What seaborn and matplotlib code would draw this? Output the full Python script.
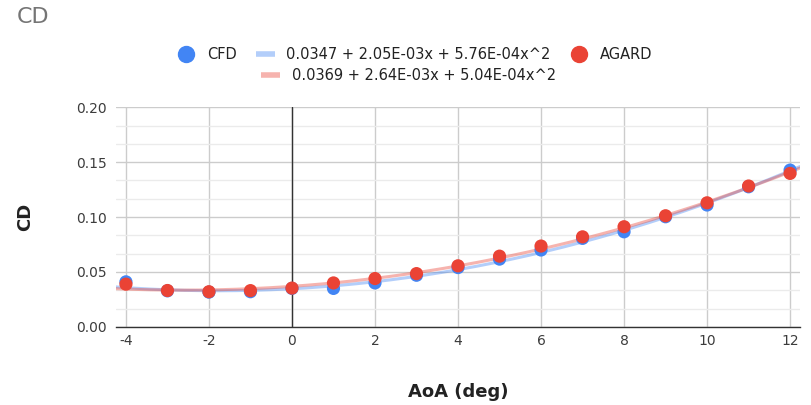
import numpy as np
import pandas as pd
import matplotlib
matplotlib.use("Agg")
import matplotlib.pyplot as plt
from matplotlib.lines import Line2D
import seaborn as sns

# Angle of attack (deg) and drag coefficients
aoa = [-4, -3, -2, -1, 0, 1, 2, 3, 4, 5, 6, 7, 8, 9, 10, 11, 12]
cd_cfd = [0.0410, 0.0328, 0.0316, 0.0320, 0.0350, 0.0350, 0.0400, 0.0470, 0.0540,
          0.0617, 0.0700, 0.0806, 0.0866, 0.1003, 0.1110, 0.1276, 0.1428]
cd_agard = [0.0389, 0.0331, 0.0320, 0.0330, 0.0353, 0.0400, 0.0440, 0.0485, 0.0556,
            0.0644, 0.0736, 0.0820, 0.0912, 0.1012, 0.1130, 0.1283, 0.1398]

# Quadratic trendline coefficients (c0, c1, c2)
fit_cfd = [0.0347, 2.05e-3, 5.76e-4]
fit_agard = [0.0369, 2.64e-3, 5.04e-4]
fit_cfd_label = "0.0347 + 2.05E-03x + 5.76E-04x^2"
fit_agard_label = "0.0369 + 2.64E-03x + 5.04E-04x^2"

x_ticks = [-4, -2, 0, 2, 4, 6, 8, 10, 12]
y_ticks = [0.00, 0.05, 0.10, 0.15, 0.20]

BLUE = "#4285F4"
RED = "#EA4335"

sns.set_theme(style="white")
plt.rcParams["font.family"] = ["DejaVu Sans"]

fig = plt.figure(figsize=(8.11, 4.05), dpi=100)
ax = fig.add_axes([0.143, 0.193, 0.8435, 0.542])

xmin, xmax = -4.24, 12.24
xs = np.linspace(xmin, xmax, 200)
trend = pd.DataFrame({
    "x": np.concatenate([xs, xs]),
    "y": np.concatenate([fit_cfd[0] + fit_cfd[1] * xs + fit_cfd[2] * xs ** 2,
                         fit_agard[0] + fit_agard[1] * xs + fit_agard[2] * xs ** 2]),
    "series": ["cfd"] * len(xs) + ["agard"] * len(xs),
})
pts = pd.DataFrame({"aoa": aoa, "CFD": cd_cfd, "AGARD": cd_agard})

# gridlines
ax.set_yticks(y_ticks)
ax.set_yticks(np.arange(0, 0.2001, 0.05 / 3), minor=True)
ax.set_xticks(x_ticks)
ax.grid(axis="y", which="major", color="#cccccc", lw=1.0, zorder=0)
ax.grid(axis="y", which="minor", color="#ebebeb", lw=1.0, zorder=0)
ax.grid(axis="x", which="major", color="#cccccc", lw=1.0, zorder=0)
ax.axvline(0, color="#333333", lw=1.0, zorder=1)

sns.lineplot(data=trend[trend.series == "cfd"], x="x", y="y", ax=ax, color=BLUE,
             alpha=0.4, lw=2.2, legend=False, zorder=2)
sns.lineplot(data=trend[trend.series == "agard"], x="x", y="y", ax=ax, color=RED,
             alpha=0.4, lw=2.2, legend=False, zorder=2)
sns.scatterplot(data=pts, x="aoa", y="CFD", ax=ax, color=BLUE, s=90,
                edgecolor="none", legend=False, zorder=3)
sns.scatterplot(data=pts, x="aoa", y="AGARD", ax=ax, color=RED, s=90,
                edgecolor="none", legend=False, zorder=4)

ax.set_xlim(xmin, xmax)
ax.set_ylim(0, 0.2)
ax.set_yticklabels([f"{v:.2f}" for v in y_ticks])
ax.set_xticklabels([str(v) for v in x_ticks])
ax.tick_params(axis="y", length=0, labelsize=10, colors="#3c3c3c", pad=6.5)
ax.tick_params(axis="x", length=0, labelsize=10, colors="#3c3c3c", pad=5)
for s in ["top", "right", "left"]:
    ax.spines[s].set_visible(False)
ax.spines["bottom"].set_color("#333333")
ax.spines["bottom"].set_linewidth(1.0)

ax.set_xlabel("AoA (deg)", fontsize=13, fontweight="bold", color="#222222")
ax.xaxis.set_label_coords(0.5, -0.255)
ax.set_ylabel("CD", fontsize=13, fontweight="bold", color="#222222")
ax.yaxis.set_label_coords(-0.12, 0.5)

fig.text(0.021, 0.958, "CD", fontsize=16, color="#757575", ha="left", va="center")

h1 = [
    Line2D([], [], ls="none", marker="o", ms=11.5, color=BLUE),
    Line2D([], [], color=BLUE, alpha=0.4, lw=4, solid_capstyle="butt"),
    Line2D([], [], ls="none", marker="o", ms=11.5, color=RED),
]
leg1 = fig.legend(h1, ["CFD", fit_cfd_label, "AGARD"], ncol=3, loc="center",
                  bbox_to_anchor=(0.511, 0.866), frameon=False, fontsize=10.5,
                  handlelength=1.3, handletextpad=0.8, columnspacing=1.3)
for t in leg1.get_texts():
    t.set_color("#222222")
h2 = [Line2D([], [], color=RED, alpha=0.4, lw=4, solid_capstyle="butt")]
leg2 = fig.legend(h2, [fit_agard_label], loc="center", bbox_to_anchor=(0.504, 0.814),
                  frameon=False, fontsize=10.5, handlelength=1.3, handletextpad=0.8)
for t in leg2.get_texts():
    t.set_color("#222222")

fig.savefig("out.png", dpi=100)
